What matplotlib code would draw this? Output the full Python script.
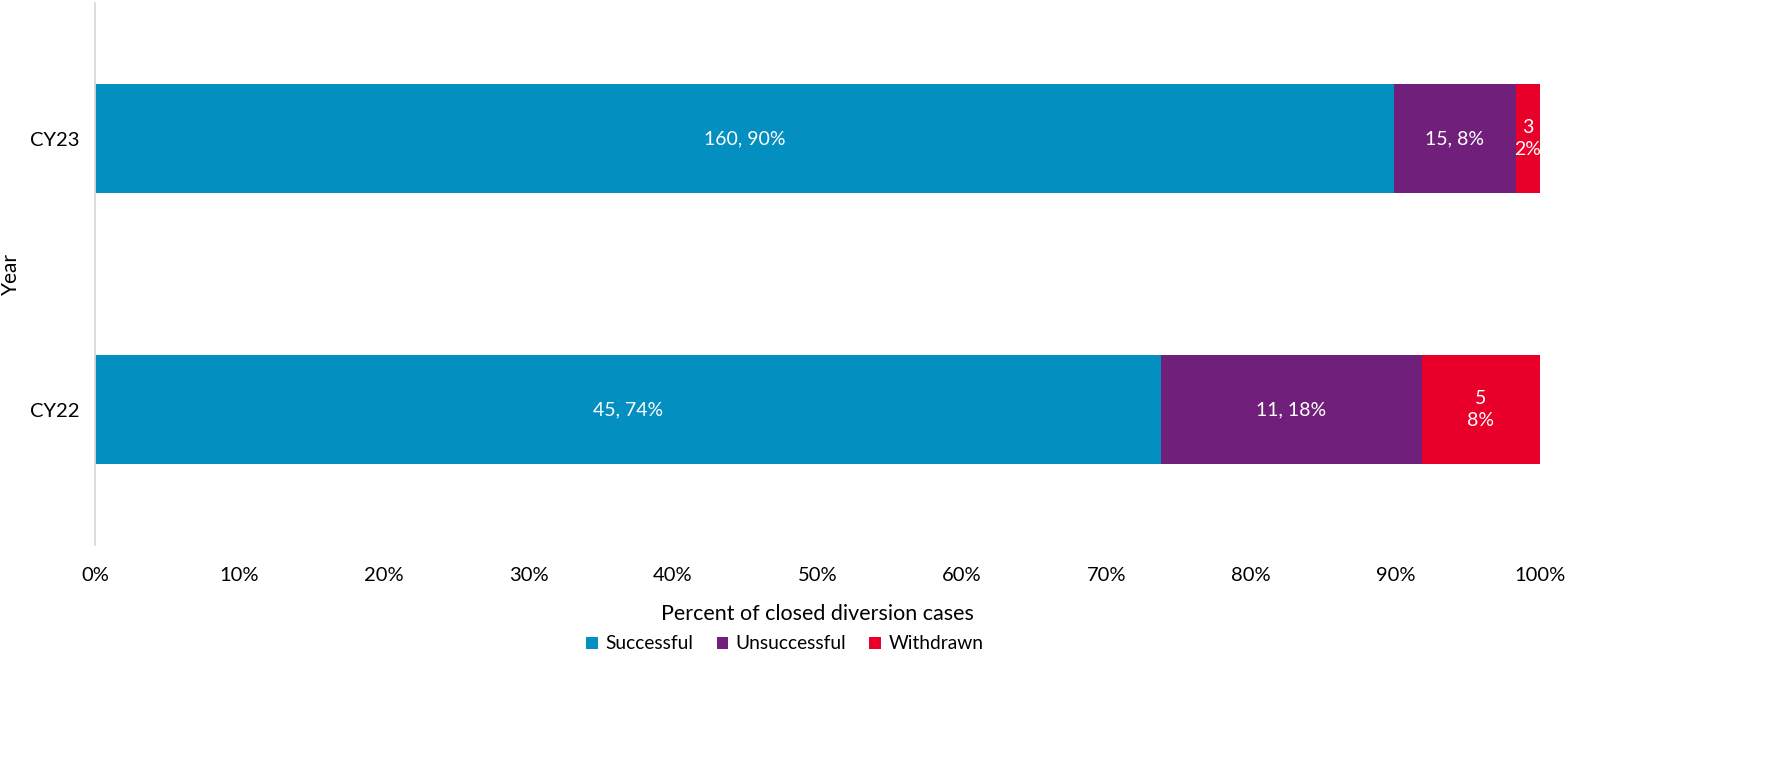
import matplotlib
matplotlib.use("Agg")
import matplotlib.pyplot as plt
from matplotlib.ticker import PercentFormatter

plt.rcParams['font.family'] = ['Lato', 'DejaVu Sans']

years = ["CY22", "CY23"]
categories = ["Successful", "Unsuccessful", "Withdrawn"]
counts = {
    "Successful": [45, 160],
    "Unsuccessful": [11, 15],
    "Withdrawn": [5, 3],
}
colors = {"Successful": "#038FC0", "Unsuccessful": "#70207A", "Withdrawn": "#E8002A"}
stacked_labels = {"Withdrawn"}  # labels shown as count over percent

totals = [sum(counts[c][i] for c in categories) for i in range(len(years))]

fig = plt.figure(figsize=(17.76, 7.72), dpi=100)
ax = fig.add_axes([0.0535, 0.294, 0.8136, 0.702])

left = [0.0] * len(years)
for cat in categories:
    pct = [counts[cat][i] / totals[i] * 100 for i in range(len(years))]
    bars = ax.barh(range(len(years)), pct, left=left, height=0.4,
                   color=colors[cat], label=cat)
    for i, b in enumerate(bars):
        p = round(pct[i])
        if cat in stacked_labels:
            txt = f"{counts[cat][i]}\n{p}%"
        else:
            txt = f"{counts[cat][i]}, {p}%"
        ax.text(left[i] + pct[i] / 2, i, txt, ha='center', va='center',
                color='white', fontsize=14, linespacing=1.35)
    left = [left[i] + pct[i] for i in range(len(years))]

ax.set_xlim(0, 100)
ax.set_ylim(-0.5, 1.5)
ax.set_yticks(range(len(years)))
ax.set_yticklabels(years)
ax.set_xticks(range(0, 101, 10))
ax.xaxis.set_major_formatter(PercentFormatter(decimals=0))
ax.tick_params(axis='both', length=0, labelsize=14.5, colors='black')
ax.tick_params(axis='x', pad=16)
ax.tick_params(axis='y', pad=11)
for s in ['top', 'right', 'bottom']:
    ax.spines[s].set_visible(False)
ax.spines['left'].set_color('#D9D9D9')
ax.spines['left'].set_linewidth(1.3)

ax.set_xlabel("Percent of closed diversion cases", fontsize=15.5)
ax.xaxis.set_label_coords(0.5, -0.108)
ax.set_ylabel("Year", fontsize=15)
ax.yaxis.set_label_coords(-0.051, 0.5)

handles, labels = ax.get_legend_handles_labels()
fig.legend(handles, labels, loc='center', bbox_to_anchor=(0.442, 0.166), ncol=3,
           frameon=False, fontsize=13.8, handlelength=0.6, handleheight=0.6,
           handletextpad=0.4, columnspacing=1.2)

fig.savefig("out.png", dpi=100)
